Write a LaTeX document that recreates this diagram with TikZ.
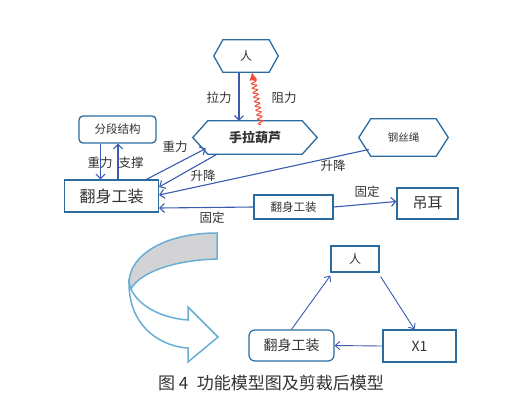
\documentclass[tikz,border=0pt]{standalone}
\usepackage{fontspec}
\newfontfamily\cjk{Noto Sans CJK SC}
\usetikzlibrary{decorations.pathmorphing, arrows.meta}
\definecolor{boxblue}{HTML}{2A6CA0}
\definecolor{arrblue}{HTML}{3A5BB0}
\definecolor{lblue}{HTML}{6AAED6}
\definecolor{cgrey}{HTML}{D3D3D5}
\definecolor{wred}{HTML}{F04E37}
\definecolor{txt}{HTML}{333333}
\newcommand\hexdraw[2]{\draw[hexl] (#1.west) -- ([xshift=#2]#1.north west) -- ([xshift=-#2]#1.north east) -- (#1.east) -- ([xshift=-#2]#1.south east) -- ([xshift=#2]#1.south west) -- cycle;}
\newcommand\fs[1]{\fontsize{#1}{#1}\selectfont}
\begin{document}
\begin{tikzpicture}[x=1pt,y=-1pt,
  every node/.style={text=txt, font=\cjk},
  box/.style={draw=boxblue, line width=1.3pt, inner sep=0pt},
  hexn/.style={inner sep=0pt},
  hexl/.style={draw=boxblue, line width=1.3pt, line join=miter},
  arr/.style={draw=arrblue, line width=1.1pt, -{Straight Barb[length=4.5pt,width=9pt]}},
  arrb/.style={draw=arrblue, line width=0.9pt, -{Straight Barb[length=4.5pt,width=8pt]}},
  wav/.style={draw=wred, line width=1pt, decorate, decoration={snake, amplitude=2.5pt, segment length=4.5pt, post length=7pt}, -{Latex[length=8pt,width=8pt]}},
  lab/.style={font=\cjk\fs{12.5}},
  carr/.style={draw=lblue, line width=1.5pt, line join=miter}
]
\useasboundingbox[fill=white] (0,0) rectangle (525,416);

% top diagram nodes
\node[hexn, minimum width=64pt, minimum height=32pt, font=\cjk\fs{12}] (ren) at (246,56) {人};
\hexdraw{ren}{9pt}
\node[hexn, minimum width=124pt, minimum height=33pt, font=\cjk\bfseries\fs{13}] (hl) at (255,137.5) {手拉葫芦};
\hexdraw{hl}{15pt}
\node[hexn, minimum width=89pt, minimum height=37pt, font=\cjk\fs{10.5}] (gs) at (403.5,137.5) {钢丝绳};
\hexdraw{gs}{12pt}
\node[box, rounded corners=4pt, minimum width=77pt, minimum height=27pt, font=\cjk\fs{11.5}] (fd) at (117.5,129.5) {分段结构};
\node[box, minimum width=94pt, minimum height=32pt, font=\cjk\fs{16}] (fsb) at (111.5,196) {翻身工装};
\node[box, minimum width=79pt, minimum height=24pt, font=\cjk\fs{11.5}] (fs2) at (293.5,207) {翻身工装};
\node[box, minimum width=61pt, minimum height=31pt, font=\cjk\fs{15}] (de) at (427.5,203.5) {吊耳};

% top connectors
\draw[arr] ([xshift=-7pt]ren.south) -- ([xshift=-7pt]ren.south |- hl.north);
\draw[wav] ([xshift=6pt,yshift=-4pt]hl.north) -- ([xshift=6pt]ren.south);
\draw[arr] ([xshift=-17pt]fd.south) -- ([xshift=-17pt]fd.south |- fsb.north);
\draw[arr] ([xshift=0.5pt]fd.south |- fsb.north) -- ([xshift=0.5pt]fd.south);
\draw[arr] ([xshift=35pt]fsb.north) -- ([xshift=13pt,yshift=-11pt]hl.west);
\draw[arr] ([xshift=-38pt]hl.south) -- ([yshift=9pt]fsb.east);
\draw[arr] ([xshift=10pt,yshift=-12pt]gs.west) -- ([yshift=1pt]fsb.east);
\draw[arr] (fs2.west) -- ([yshift=-12pt]fsb.east);
\draw[arr] (fs2.east) -- ([yshift=2pt]de.west);

% labels
\node[lab] (l1) at (219,98) {拉力};
\node[lab] (l2) at (284,98) {阻力};
\node[lab] (l3) at (100,163) {重力};
\node[lab] (l4) at (131,163) {支撑};
\node[lab] (l5) at (175,147) {重力};
\node[lab] (l6) at (203,176) {升降};
\node[lab] (l7) at (333,166) {升降};
\node[lab] (l8) at (212,218) {固定};
\node[lab] (l9) at (367,192) {固定};

% curved arrow
\draw[carr, fill=cgrey] (217,233) .. controls (165,233) and (129,255) .. (129,283)
  -- (131,289) .. controls (140,272) and (175,260) .. (217,259) -- cycle;
\draw[carr, fill=white] (131,289) .. controls (138,305) and (160,318) .. (188,320)
  -- (188,307) -- (218,337) -- (188,362) -- (188,348)
  .. controls (165,347) and (129,330) .. (129,283) -- cycle;

% bottom diagram
\node[box, line width=1.2pt, minimum width=48pt, minimum height=26pt, font=\cjk\fs{12}] (ren2) at (355,259) {人};
\node[box, line width=1.2pt, minimum width=73pt, minimum height=32pt, font=\cjk\fs{14}] (x1) at (419.5,346) {X1};
\node[box, line width=1.2pt, rounded corners=6pt, minimum width=85pt, minimum height=31pt, font=\cjk\fs{14}] (fs3) at (291.5,345.5) {翻身工装};
\draw[arrb] (fs3.north) -- ([yshift=-3pt]ren2.south west);
\draw[arrb] ([xshift=1pt,yshift=-4pt]ren2.south east) -- ([xshift=-5pt]x1.north);
\draw[arrb] (x1.west) -- (fs3.east);

% caption
\node[font=\cjk\fs{17}, text=txt] (cap) at (271,383) {图 4\hspace{0.5em}功能模型图及剪裁后模型};
\end{tikzpicture}
\end{document}
